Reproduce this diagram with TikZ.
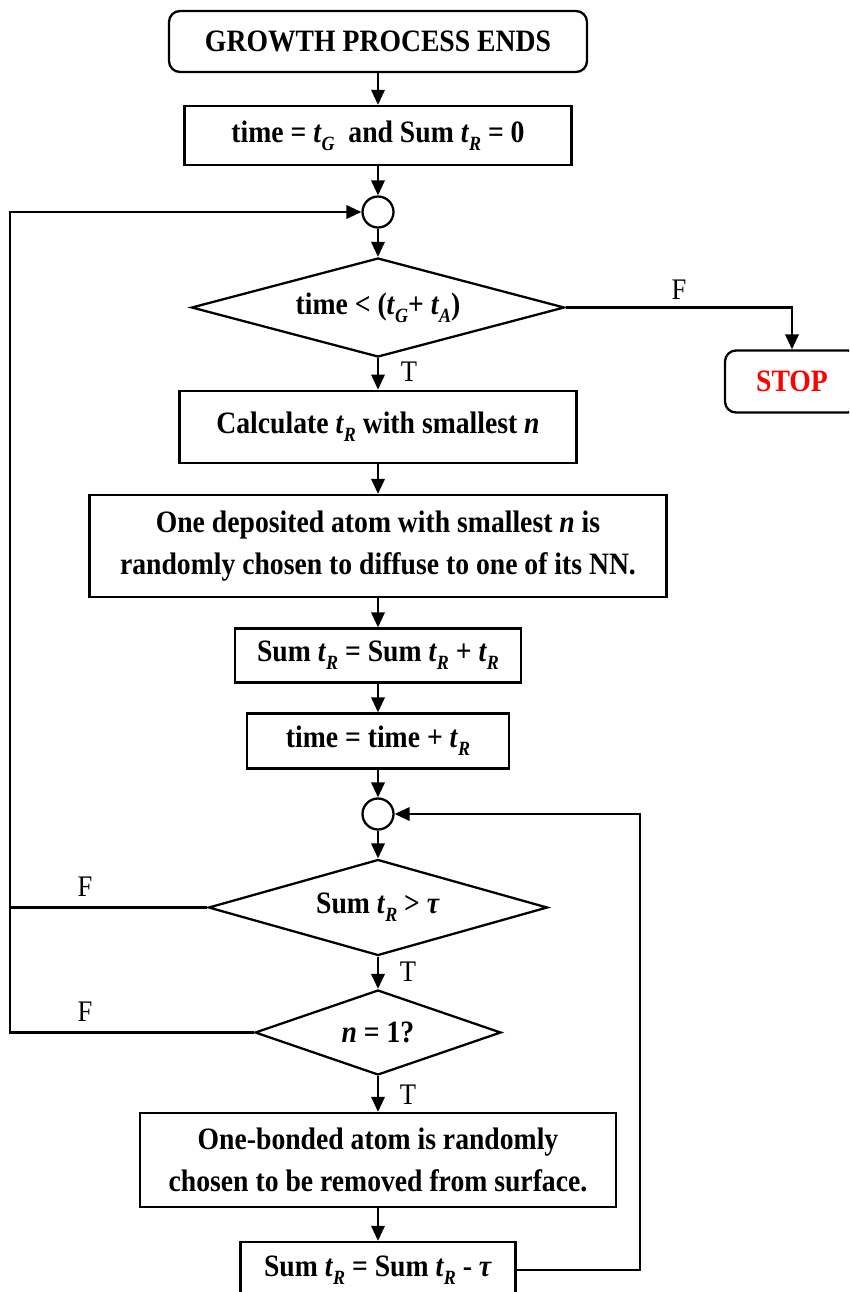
\documentclass[tikz,border=0pt]{standalone}
\usepackage{fontspec}
\setmainfont{Liberation Serif}[FakeStretch=0.89]
\usetikzlibrary{shapes.geometric,arrows.meta}
\definecolor{stopred}{RGB}{255,0,0}
\newcommand{\tsub}[1]{\textit{t}\raisebox{-0.55ex}{\fontsize{11.5}{12}\selectfont\textit{#1}}}

\begin{document}
\begin{tikzpicture}[x=0.02cm,y=-0.02cm,line width=1.3pt,
  wh/.style 2 args={minimum width=#1*0.02cm,minimum height=#2*0.02cm},
  txt/.style={font=\fontsize{17.7}{23.7}\selectfont\bfseries},
  procbox/.style={draw,rectangle,inner sep=0pt,align=center,txt},
  termbox/.style={procbox,rounded corners=0.22cm},
  decide/.style={draw,diamond,aspect=3,inner sep=0pt,txt},
  joint/.style={draw,circle,minimum size=31*0.02cm,inner sep=0pt},
  flowarr/.style={-{Triangle[length=8.5pt,width=7.6pt]}},
  tflabel/.style={font=\fontsize{17}{20}\selectfont}]
\useasboundingbox (0,0) rectangle (849,1292);
\clip (0,0) rectangle (849,1292);

% Start and initialisation
\node[termbox,wh={418}{61}] (start) at (378,41.5) {GROWTH PROCESS ENDS};
\node[procbox,wh={387}{59}] (init) at (378,135.5) {time = \tsub{G}\ \ and Sum \tsub{R} = 0};
\node[joint] (jointA) at (378,212) {};

% Time check
\node[decide,wh={373}{99}] (timechk) at (378,307.5) {time < (\tsub{G}+ \tsub{A})};
\node[termbox,wh={134}{62},text=stopred] (stop) at (792,381.5) {STOP};

% Diffusion steps
\node[procbox,wh={397}{72}] (calc) at (378,426.7) {Calculate \tsub{R} with smallest \textit{n}};
\node[procbox,wh={577}{102}] (diffuse) at (378,546) {One deposited atom with smallest \textit{n} is\\randomly chosen to diffuse to one of its NN.};
\node[procbox,wh={286}{54}] (sumadd) at (378,655.5) {Sum \tsub{R} = Sum \tsub{R} + \tsub{R}};
\node[procbox,wh={262}{55}] (timeadd) at (378,741) {time = time + \tsub{R}};
\node[joint] (jointB) at (378,814) {};

% Removal checks
\node[decide,wh={339}{96}] (sumchk) at (378,907.5) {Sum \tsub{R} > \textit{τ}};
\node[decide,wh={246}{85}] (onechk) at (378,1032.5) {\textit{n} = 1?};
\node[procbox,wh={476}{94}] (remove) at (378,1160) {One-bonded atom is randomly\\chosen to be removed from surface.};
\node[procbox,wh={275}{56}] (sumsub) at (378,1270) {Sum \tsub{R} = Sum \tsub{R} - \textit{τ}};

% Loop corners
\coordinate (leftx) at (10,212);
\coordinate (rightx) at (640,814);

% Arrows
\draw[flowarr] (start) -- (init);
\draw[flowarr] (init) -- (jointA);
\draw[flowarr] (jointA) -- (timechk);
\draw[flowarr] (timechk.east) -| (stop.north);
\draw[flowarr] (timechk.south) -- (calc.north);
\draw[flowarr] (calc) -- (diffuse);
\draw[flowarr] (diffuse) -- (sumadd);
\draw[flowarr] (sumadd) -- (timeadd);
\draw[flowarr] (timeadd) -- (jointB);
\draw[flowarr] (jointB) -- (sumchk.north);
\draw[flowarr] (sumchk.south) -- (onechk.north);
\draw[flowarr] (onechk.south) -- (remove.north);
\draw[flowarr] (remove) -- (sumsub);
\draw[flowarr] (sumchk.west) -| (leftx) -- (jointA.west);
\draw (onechk.west) -| (leftx);
\draw[flowarr] (sumsub.east) -| (rightx) -- (jointB.east);

% T / F labels
\node[tflabel] (fA) at (679,290) {F};
\node[tflabel] (tA) at (409,372) {T};
\node[tflabel] (fB) at (85,887) {F};
\node[tflabel] (tB) at (408,972) {T};
\node[tflabel] (fC) at (85,1012) {F};
\node[tflabel] (tC) at (408,1095) {T};
\end{tikzpicture}
\end{document}
